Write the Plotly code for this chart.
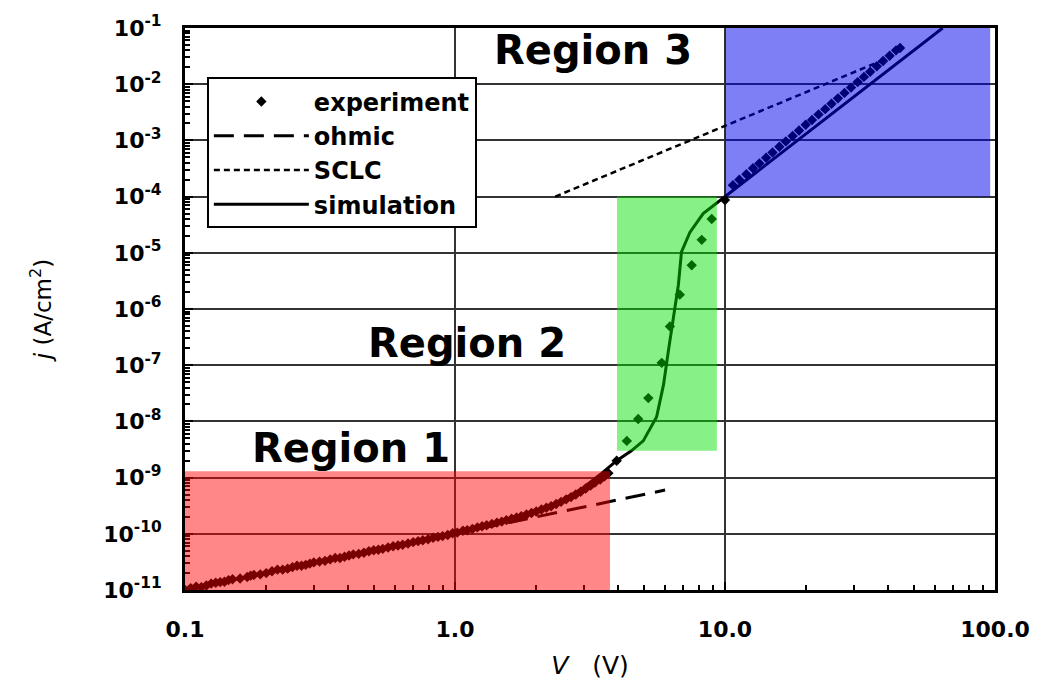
import math
import plotly.graph_objects as go

# ---------------- data ----------------
# experiment, region 1 (dense band of points)
exp1_v = [0.10, 0.105, 0.11, 0.115, 0.12, 0.125, 0.13, 0.135, 0.14, 0.145, 0.15, 0.16,
          0.17, 0.175, 0.18, 0.19, 0.20, 0.21, 0.22, 0.23, 0.24, 0.25, 0.26, 0.27,
          0.28, 0.29, 0.30, 0.315, 0.33, 0.345, 0.36, 0.375, 0.39, 0.405, 0.42, 0.44,
          0.46, 0.48, 0.50, 0.52, 0.54, 0.565, 0.59, 0.615, 0.64, 0.67, 0.70, 0.73,
          0.76, 0.795, 0.83, 0.865, 0.90, 0.94, 0.98, 1.02, 1.07, 1.11, 1.16, 1.21,
          1.26, 1.31, 1.37, 1.43, 1.49, 1.55, 1.62, 1.69, 1.76, 1.84, 1.92, 2.0,
          2.09, 2.18, 2.27, 2.37, 2.47, 2.58, 2.69, 2.8, 2.92, 3.05, 3.18, 3.3,
          3.45, 3.58, 3.70]
exp1_j = [1.0e-11, 1.08e-11, 1.15e-11, 1.12e-11, 1.2e-11, 1.3e-11, 1.35e-11, 1.38e-11,
          1.4e-11, 1.5e-11, 1.55e-11, 1.6e-11, 1.7e-11, 1.8e-11, 1.85e-11, 1.9e-11,
          2.0e-11, 2.15e-11, 2.3e-11, 2.3e-11, 2.4e-11, 2.55e-11, 2.7e-11, 2.7e-11,
          2.8e-11, 2.95e-11, 3.1e-11, 3.2e-11, 3.3e-11, 3.5e-11, 3.7e-11, 3.7e-11,
          3.9e-11, 4.1e-11, 4.3e-11, 4.4e-11, 4.6e-11, 4.9e-11, 5.1e-11, 5.2e-11,
          5.4e-11, 5.7e-11, 6.0e-11, 6.2e-11, 6.4e-11, 6.7e-11, 7.1e-11, 7.4e-11,
          7.7e-11, 8.0e-11, 8.5e-11, 8.8e-11, 9.1e-11, 9.5e-11, 1.02e-10, 1.05e-10,
          1.13e-10, 1.16e-10, 1.22e-10, 1.3e-10, 1.36e-10, 1.42e-10, 1.5e-10, 1.58e-10,
          1.65e-10, 1.75e-10, 1.85e-10, 1.95e-10, 2.05e-10, 2.2e-10, 2.35e-10, 2.5e-10,
          2.7e-10, 2.9e-10, 3.1e-10, 3.4e-10, 3.7e-10, 4.1e-10, 4.5e-10, 5.0e-10,
          5.6e-10, 6.4e-10, 7.2e-10, 8.2e-10, 9.2e-10, 1.05e-9, 1.2e-9]
# experiment, region 2
exp2_v = [3.97, 4.33, 4.77, 5.20, 5.83, 6.25, 6.80, 7.53, 8.20, 8.93, 10.0]
exp2_j = [2.0e-9, 4.5e-9, 1.1e-8, 2.6e-8, 1.1e-7, 4.9e-7, 1.8e-6, 6.0e-6, 1.7e-5, 4.0e-5, 8.7e-5]
# experiment, region 3
exp3_v = [10.7, 11.3, 12.0, 12.7, 13.4, 14.2, 15.0, 15.9, 16.8, 17.8, 18.8, 19.9,
          21.0, 22.2, 23.5, 24.8, 26.2, 27.7, 29.3, 31.0, 32.7, 34.5, 36.5, 38.5,
          40.7, 43.0, 44.5]
exp3_j = [1.6e-4, 2.0e-4, 2.5e-4, 3.2e-4, 3.9e-4, 4.9e-4, 6.1e-4, 7.7e-4, 9.6e-4, 1.2e-3,
          1.5e-3, 1.9e-3, 2.3e-3, 2.9e-3, 3.6e-3, 4.5e-3, 5.6e-3, 7.0e-3, 8.7e-3, 1.09e-2,
          1.35e-2, 1.67e-2, 2.08e-2, 2.58e-2, 3.2e-2, 4.0e-2, 4.4e-2]

sim_v = [0.1, 0.2, 0.3, 0.5, 0.7, 1.0, 1.3, 1.6, 2.0, 2.4, 2.9, 3.5, 3.97, 4.5, 4.98,
         5.58, 5.92, 6.17, 6.44, 6.72, 6.9, 7.41, 8.3, 9.72, 10.0, 11.0, 13.0, 16.0,
         20.0, 25.0, 30.0, 40.0, 50.0, 64.0]
sim_j = [1.0e-11, 2.0e-11, 3.0e-11, 5.0e-11, 7.0e-11, 1.05e-10, 1.4e-10, 1.9e-10,
         2.6e-10, 3.6e-10, 6.0e-10, 1.2e-9, 2.0e-9, 3.0e-9, 4.5e-9,
         1.2e-8, 4.5e-8, 1.8e-7, 6.9e-7, 2.7e-6, 1.04e-5, 2.3e-5, 5.0e-5, 9.1e-5, 1.0e-4,
         1.43e-4, 2.65e-4, 5.75e-4, 1.32e-3, 3.03e-3, 5.95e-3, 1.74e-2, 3.98e-2, 1.0e-1]

ohm_v = [0.1, 6.0]
ohm_j = [1.0e-11, 6.0e-10]

sclc_v = [2.35, 42.0]
sclc_j = [1.0e-4, 3.2e-2]

region_names = ["Region 1", "Region 2", "Region 3"]
region_v0 = [0.1, 3.98, 10.0]
region_v1 = [3.75, 9.33, 96.0]
region_j0 = [1.0e-11, 3.0e-9, 1.0e-4]
region_j1 = [1.3e-9, 1.0e-4, 1.0e-1]
region_colors = ["rgba(255,0,0,0.47)", "rgba(0,225,0,0.47)", "rgba(0,0,235,0.5)"]
label_v = [0.412, 1.107, 3.24]
label_j = [3.4e-9, 2.45e-7, 4.07e-2]

x_tickvals = [0.1, 1.0, 10.0, 100.0]
x_ticktext = ["0.1", "1.0", "10.0", "100.0"]
y_exps = list(range(-11, 0))
y_tickvals = [10.0 ** e for e in y_exps]
y_ticktext = ["10<sup>%d</sup>" % e for e in y_exps]

FONT = "DejaVu Sans"

exp_v = exp1_v + exp2_v + exp3_v
exp_j = exp1_j + exp2_j + exp3_j

fig = go.Figure()

fig.add_trace(go.Scatter(
    x=exp_v, y=exp_j, mode="markers", name="experiment",
    marker=dict(symbol="diamond", size=8, color="black"),
))
fig.add_trace(go.Scatter(
    x=ohm_v, y=ohm_j, mode="lines", name="ohmic",
    line=dict(color="black", width=3, dash="20px,10px"),
))
fig.add_trace(go.Scatter(
    x=sclc_v, y=sclc_j, mode="lines", name="SCLC",
    line=dict(color="black", width=2.5, dash="6px,4px"),
))
fig.add_trace(go.Scatter(
    x=sim_v, y=sim_j, mode="lines", name="simulation",
    line=dict(color="black", width=3),
))

for v0, v1, j0, j1, c in zip(region_v0, region_v1, region_j0, region_j1, region_colors):
    fig.add_shape(type="rect", xref="x", yref="y", x0=v0, x1=v1, y0=j0, y1=j1,
                  fillcolor=c, line=dict(width=0), layer="above")

for name, v, j in zip(region_names, label_v, label_j):
    fig.add_annotation(x=math.log10(v), y=math.log10(j), xref="x", yref="y",
                       text="<b>%s</b>" % name, showarrow=False,
                       font=dict(family=FONT, size=40, color="black"))

fig.update_xaxes(
    type="log", range=[-1, 2],
    tickmode="array", tickvals=x_tickvals, ticktext=x_ticktext,
    ticks="inside", ticklen=8, tickwidth=2, tickcolor="black",
    showgrid=True, gridcolor="#333", gridwidth=1.5,
    showline=True, linecolor="black", linewidth=3, mirror=True,
    tickfont=dict(family=FONT, size=22, color="black", weight="bold"),
    ticklabelstandoff=18,
    minor=dict(dtick="D1", ticks="inside", ticklen=5, tickwidth=2,
               tickcolor="black", showgrid=False),
    title=dict(text="<i>V</i>   (V)", font=dict(family=FONT, size=25, color="black"),
               standoff=16),
    zeroline=False,
)
fig.update_yaxes(
    type="log", range=[-11, -1],
    tickmode="array", tickvals=y_tickvals, ticktext=y_ticktext,
    ticks="inside", ticklen=8, tickwidth=2, tickcolor="black",
    showgrid=True, gridcolor="#333", gridwidth=1.5,
    showline=True, linecolor="black", linewidth=3, mirror=True,
    tickfont=dict(family=FONT, size=22, color="black", weight="bold"),
    ticklabelstandoff=16,
    minor=dict(dtick="D1", ticks="inside", ticklen=5, tickwidth=2,
               tickcolor="black", showgrid=False),
    title=dict(text="<i>j</i> (A/cm<sup>2</sup>)", font=dict(family=FONT, size=23, color="black"),
               standoff=46),
    zeroline=False,
)

fig.update_layout(
    width=1050, height=697,
    margin=dict(l=185, r=55, t=25, b=107),
    paper_bgcolor="white", plot_bgcolor="white",
    showlegend=True,
    legend=dict(
        x=0.027, y=0.912, xanchor="left", yanchor="top",
        bgcolor="white", bordercolor="black", borderwidth=2,
        font=dict(family=FONT, size=24, color="black", weight="bold"),
        itemwidth=95, tracegroupgap=0,
    ),
)

fig.write_html("out.html")
